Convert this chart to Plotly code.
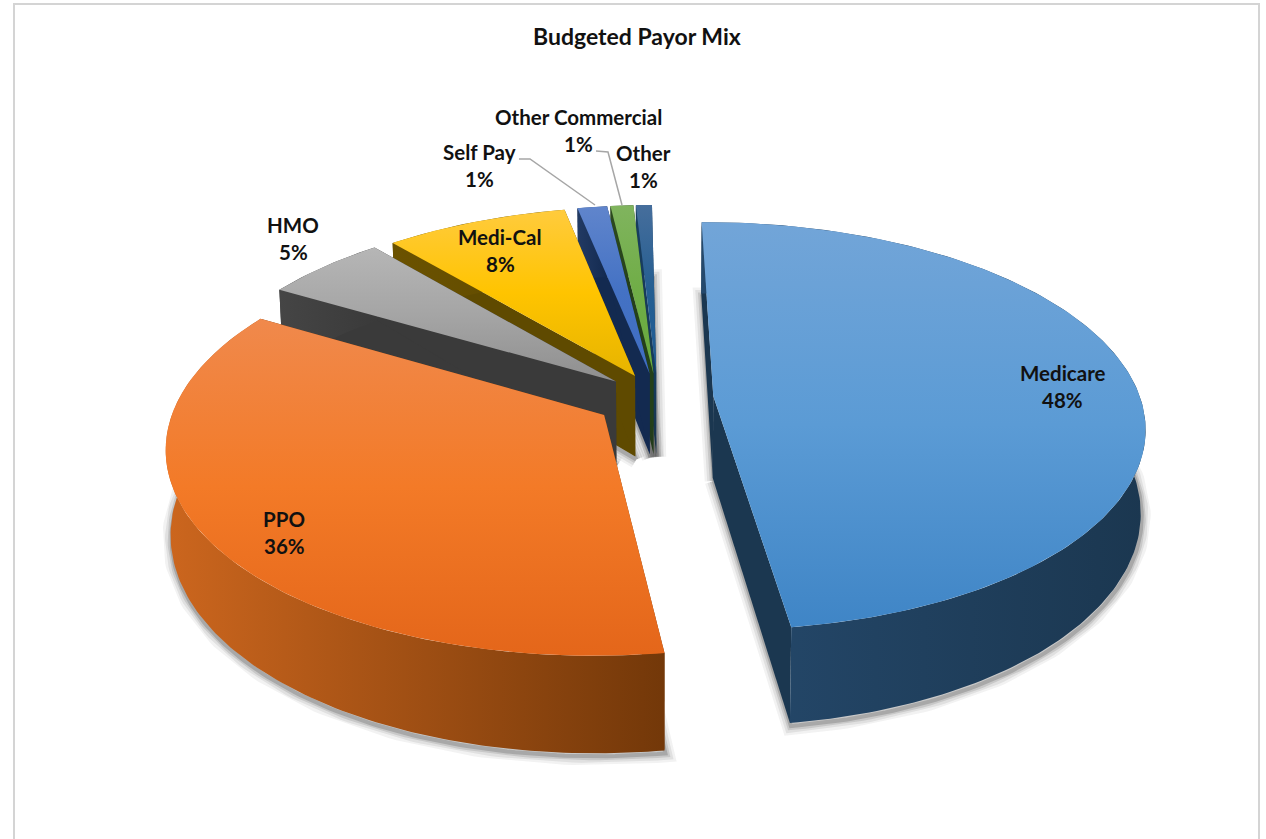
import math
import plotly.graph_objects as go

# ---------- data ----------
categories = ["Medicare", "PPO", "HMO", "Medi-Cal", "Self Pay", "Other Commercial", "Other"]
values = [48, 35.6, 5.4, 8, 1.3, 1.0, 0.7]  # estimated shares; labels show them rounded

# ---------- styles ----------
top_colors = [("#72A5D8", "#5B9BD5", "#3F85C6"), ("#F0894C", "#F37A27", "#E4661A"),
              ("#B6B6B6", "#A5A5A5", "#8F8F8F"), ("#FFCB3D", "#FFC400", "#E6B400"),
              ("#6085CC", "#4472C4", "#3F6DC2"), ("#80B45E", "#70AD47", "#68AA3E"),
              ("#466E9C", "#255E91", "#1F5C96")]
wall_colors = [("#25496C", "#1B3750"), ("#CC661E", "#733809"), ("#454545", "#3A3A3A"),
               ("#6B5200", "#5F4A00"), ("#223A63", "#132A50"), ("#2C4A1E", "#24401A"), ("#173C5E", "#173C5E")]
pulls = [0.13, 0.15, 0.13, 0.125, 0.125, 0.125, 0.125]
draw_order = [6, 5, 4, 3, 2, 1, 0]
label_xy = [(1062, 386), (284, 532), (293, 238), (500, 250), (479, 165), (578, 130), (643, 166)]

CX, CY, A, B, T, P, Q, ROT = 658, 398, 427, 200, 82, 0.147, 0.01, -0.7


def project(u, v, z):
    d = 1 + P * v
    return CX + A * u / d * (1 - Q * z), CY + (-B * v + T * z) / d


def arc(t0, t1):
    n = max(3, int(abs(t1 - t0) * 60))
    return [t0 + (t1 - t0) * i / n for i in range(n + 1)]


total = sum(values)
fig = go.Figure()


def poly(pts, name, fill=None, scale=None, gtype="vertical", line=None, shadow=False):
    tr = dict(x=[p[0] for p in pts] + [pts[0][0]], y=[p[1] for p in pts] + [pts[0][1]],
              mode="lines", name=name, showlegend=False, hoverinfo="skip")
    if shadow:
        tr.update(fill="none", line=dict(color=line[0], width=line[1]))
    else:
        tr.update(fill="toself", line=dict(width=0, color="rgba(0,0,0,0)"))
        if scale:
            tr["fillgradient"] = dict(type=gtype, colorscale=scale)
        else:
            tr["fillcolor"] = fill
    fig.add_trace(go.Scatter(**tr))


angles = []
acc = 0
for val in values:
    t0 = math.radians(ROT + acc / total * 360)
    t1 = math.radians(ROT + (acc + val) / total * 360)
    angles.append((t0, t1))
    acc += val

for i in draw_order:
    t0, t1 = angles[i]
    tm = (t0 + t1) / 2
    ou, ov = pulls[i] * math.sin(tm), pulls[i] * math.cos(tm)
    rim = [(ou + math.sin(t), ov + math.cos(t)) for t in arc(t0, t1)]
    apex = (ou, ov)

    # soft shadow below the slice
    base = [project(u, v, 1.0) for u, v in [apex] + rim]
    for w, alpha in [(18, 0.06), (13, 0.09), (8, 0.13), (4, 0.2)]:
        poly([(x + 1, y + 3) for x, y in base], categories[i] + " shadow",
             line=(f"rgba(40,40,40,{alpha})", w), shadow=True)

    # side walls: the two radial faces, then the rounded outer face
    for edge in (rim[0], rim[-1]):
        pts = [project(*apex, 0), project(*edge, 0), project(*edge, 1), project(*apex, 1)]
        poly(pts, categories[i] + " side", fill=wall_colors[i][1])
    outer = [project(u, v, 0) for u, v in rim] + [project(u, v, 1) for u, v in reversed(rim)]
    poly(outer, categories[i] + " wall", scale=[[0, wall_colors[i][0]], [1, wall_colors[i][1]]], gtype="horizontal")

    # top face (plotly's vertical gradient runs bottom to top)
    top = [project(*apex, 0)] + [project(u, v, 0) for u, v in rim]
    light, mid, dark = top_colors[i]
    poly(top, categories[i], scale=[[0, dark], [0.5, mid], [1, light]], gtype="vertical")

FONT = "Lato"
for cat, val, (x, y) in zip(categories, values, label_xy):
    for line_text, dy in ((cat, -13.5), (f"{round(val)}%", 13.5)):
        fig.add_annotation(x=x, y=y + dy, text=f"<b>{line_text}</b>", showarrow=False, xref="x", yref="y",
                           font=dict(family=FONT, size=20.5, color="#111111"), align="center")

fig.add_annotation(x=637, y=36, text="<b>Budgeted Payor Mix</b>", showarrow=False, xref="x", yref="y",
                   font=dict(family=FONT, size=23, color="#111111"))

# leader lines
for xs, ys in [((519, 530, 595), (159, 159, 205)), ((596, 608, 622), (151, 152, 205))]:
    fig.add_trace(go.Scatter(x=list(xs), y=list(ys), mode="lines", showlegend=False, hoverinfo="skip",
                             line=dict(color="#A6A6A6", width=1.5)))

# chart frame (open at the bottom, cropped by the picture)
fig.add_trace(go.Scatter(x=[14, 14, 1259, 1259], y=[839, 4, 4, 839], mode="lines", showlegend=False,
                         hoverinfo="skip", line=dict(color="#D4D4D4", width=2)))

fig.update_layout(
    width=1266, height=839, margin=dict(l=0, r=0, t=0, b=0, pad=0),
    paper_bgcolor="white", plot_bgcolor="white", showlegend=False,
    xaxis=dict(range=[0, 1266], visible=False, fixedrange=True),
    yaxis=dict(range=[839, 0], visible=False, fixedrange=True),
)
fig.write_html("out.html", config={"displayModeBar": False},
               post_script="document.body.style.margin='0';document.body.style.overflow='hidden';")
